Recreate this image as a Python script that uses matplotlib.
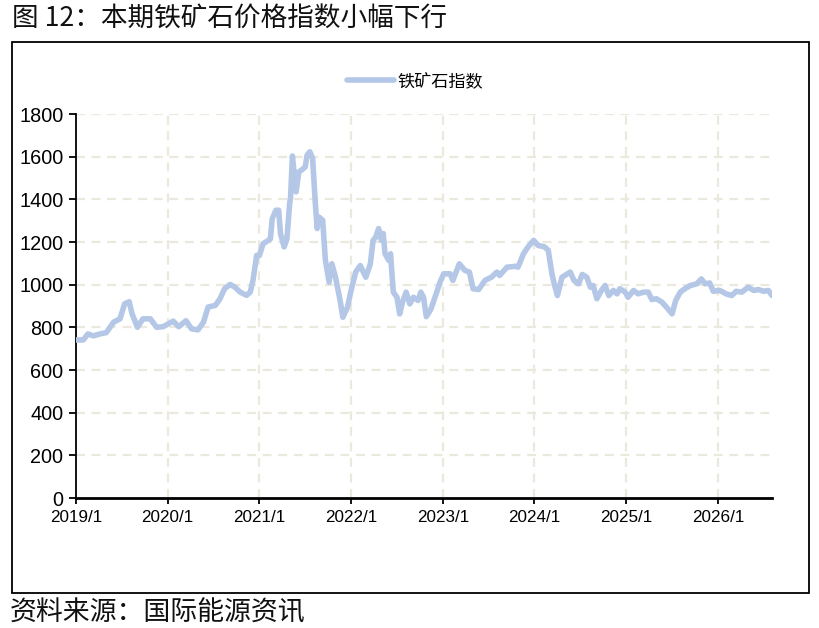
import matplotlib
matplotlib.use("Agg")
from matplotlib import pyplot as plt
from matplotlib.patches import Rectangle

plt.rcParams['font.family'] = ['Liberation Sans', 'DejaVu Sans']
cjk = ['Noto Sans CJK SC', 'DejaVu Sans']

titulo = '图 12：本期铁矿石价格指数小幅下行'
fuente = '资料来源：国际能源资讯'
serie = '铁矿石指数'

# fecha como año decimal
fechas = [
    2019.00, 2019.08, 2019.13, 2019.19, 2019.26, 2019.33, 2019.41, 2019.48, 2019.53, 2019.58,
    2019.61, 2019.67, 2019.73, 2019.81, 2019.88, 2019.95, 2020.06, 2020.12, 2020.20, 2020.26,
    2020.33, 2020.39, 2020.44, 2020.52, 2020.57, 2020.62, 2020.68, 2020.73, 2020.79, 2020.86,
    2020.90, 2020.93, 2020.97, 2021.00, 2021.04, 2021.10, 2021.12, 2021.14, 2021.18, 2021.21,
    2021.23, 2021.27, 2021.30, 2021.33, 2021.34, 2021.36, 2021.38, 2021.40, 2021.43, 2021.46,
    2021.50, 2021.52, 2021.55, 2021.58, 2021.61, 2021.63, 2021.65, 2021.69, 2021.72, 2021.76,
    2021.79, 2021.83, 2021.88, 2021.91, 2021.96, 2022.00, 2022.05, 2022.10, 2022.16, 2022.21,
    2022.24, 2022.27, 2022.30, 2022.33, 2022.35, 2022.37, 2022.41, 2022.43, 2022.46, 2022.50,
    2022.53, 2022.56, 2022.60, 2022.64, 2022.68, 2022.73, 2022.76, 2022.79, 2022.82, 2022.87,
    2022.93, 2022.97, 2023.01, 2023.08, 2023.11, 2023.18, 2023.24, 2023.29, 2023.33, 2023.39,
    2023.46, 2023.53, 2023.59, 2023.62, 2023.70, 2023.79, 2023.82, 2023.88, 2023.93, 2023.99,
    2024.04, 2024.11, 2024.15, 2024.19, 2024.22, 2024.25, 2024.30, 2024.33, 2024.39, 2024.43,
    2024.48, 2024.52, 2024.57, 2024.61, 2024.64, 2024.68, 2024.73, 2024.77, 2024.81, 2024.86,
    2024.90, 2024.93, 2024.99, 2025.02, 2025.08, 2025.13, 2025.19, 2025.24, 2025.28, 2025.33,
    2025.39, 2025.44, 2025.50, 2025.54, 2025.59, 2025.64, 2025.70, 2025.77, 2025.82, 2025.86,
    2025.91, 2025.95, 2026.02, 2026.09, 2026.15, 2026.20, 2026.26, 2026.33, 2026.39, 2026.44,
    2026.50, 2026.55, 2026.59,
]
valores = [
    741, 741, 769, 760, 769, 775, 824, 840, 910, 920,
    865, 800, 840, 840, 800, 803, 829, 803, 831, 793,
    788, 824, 895, 903, 934, 981, 1001, 989, 965, 950,
    965, 1020, 1137, 1137, 1192, 1208, 1215, 1310, 1349, 1349,
    1239, 1177, 1215, 1380, 1411, 1603, 1521, 1435, 1529, 1537,
    1552, 1607, 1623, 1592, 1380, 1263, 1317, 1302, 1114, 1012,
    1098, 1035, 926, 847, 894, 973, 1059, 1090, 1035, 1098,
    1208, 1224, 1263, 1208, 1240, 1145, 1114, 1145, 965, 941,
    863, 918, 965, 910, 941, 926, 965, 941, 850, 885,
    960, 1012, 1051, 1051, 1020, 1098, 1067, 1059, 981, 977,
    1020, 1035, 1059, 1043, 1082, 1086, 1082, 1145, 1177, 1208,
    1184, 1177, 1161, 1051, 996, 949, 1035, 1043, 1059, 1020,
    1004, 1048, 1035, 988, 996, 934, 973, 996, 949, 973,
    957, 981, 965, 941, 973, 957, 965, 965, 930, 934,
    918, 894, 863, 926, 965, 981, 996, 1004, 1027, 1004,
    1008, 969, 973, 957, 949, 969, 965, 988, 973, 977,
    969, 973, 949,
]
anios = [2019, 2020, 2021, 2022, 2023, 2024, 2025, 2026]
etiquetas_x = [f'{a}/1' for a in anios]
ticks_y = list(range(0, 1801, 200))


def grafica():
    fig = plt.figure(figsize=(8.2, 6.28), dpi=100)
    ax = fig.add_axes([76 / 820, 1 - 498 / 628, 696 / 820, 384 / 628])

    ax.plot(fechas, valores, color='#b4c7e7', linewidth=4.0,
            solid_joinstyle='round', solid_capstyle='round', label=serie, zorder=3)

    ax.set_xlim(2019.0, 2026.59)
    ax.set_ylim(0, 1800)
    ax.set_xticks(anios)
    ax.set_xticklabels(etiquetas_x, fontsize=12.3)
    ax.set_yticks(ticks_y)
    ax.tick_params(axis='y', labelsize=14.3, length=5, width=1.3, direction='out', pad=4)
    ax.tick_params(axis='x', length=4, width=1.3, direction='out', pad=5)

    for y in ticks_y[1:]:
        ax.axhline(y, color='#ebe8de', linestyle=(0, (4, 3)), linewidth=1.6, zorder=1)
    for a in anios[1:]:
        ax.axvline(a, color='#ebe8de', linestyle=(0, (4, 3)), linewidth=1.6, zorder=1)

    for lado in ['top', 'right']:
        ax.spines[lado].set_visible(False)
    ax.spines['left'].set_linewidth(1.3)
    ax.spines['bottom'].set_linewidth(2.0)

    ax.legend(loc='center', bbox_to_anchor=(415 / 820, 1 - 81 / 628),
              bbox_transform=fig.transFigure, frameon=False,
              prop={'family': cjk, 'size': 12.3}, handlelength=2.7,
              handletextpad=0.2)

    caja = Rectangle((12 / 820, 1 - 593 / 628), 797 / 820, 551 / 628,
                     transform=fig.transFigure, fill=False, edgecolor='black',
                     linewidth=1.3)
    fig.patches.append(caja)

    fig.text(12 / 820, 1 - 5 / 628, titulo, family=cjk, fontsize=19.2,
             va='top', ha='left', color='#111111')
    fig.text(10 / 820, 1 - 599 / 628, fuente, family=cjk, fontsize=19.4,
             va='top', ha='left', color='#111111')

    fig.savefig('out.png', dpi=100)


if __name__ == "__main__":
    grafica()
